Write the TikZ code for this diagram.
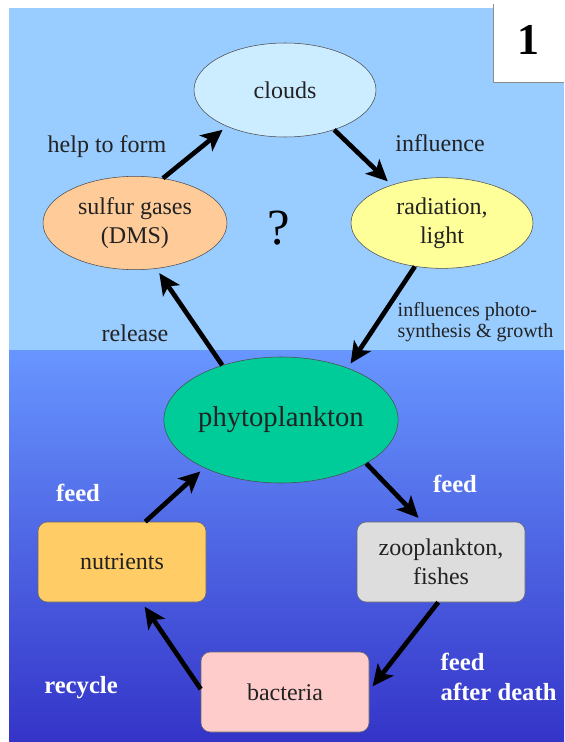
\documentclass[tikz,border=0pt]{standalone}
\usepackage{fontspec}
\setmainfont{Liberation Serif}
\usetikzlibrary{shapes.geometric,arrows.meta}
\definecolor{skyblue}{RGB}{153,204,255}
\definecolor{seatop}{RGB}{104,150,255}
\definecolor{seabottom}{RGB}{52,52,200}
\definecolor{cloudfill}{RGB}{204,236,255}
\definecolor{gasfill}{RGB}{255,204,153}
\definecolor{lightfill}{RGB}{255,255,153}
\definecolor{phytofill}{RGB}{0,204,153}
\definecolor{nutrfill}{RGB}{255,204,102}
\definecolor{zoofill}{RGB}{221,221,221}
\definecolor{bactfill}{RGB}{255,204,204}
\definecolor{inkgray}{RGB}{34,34,34}

\begin{document}
\begin{tikzpicture}[x=0.75pt, y=-0.75pt,
    oval/.style={ellipse, draw=black!70, thin, inner sep=0pt, align=center,
        text=inkgray, font=\fontsize{18}{22}\selectfont},
    card/.style={rectangle, rounded corners=7pt, draw=black!60, thin, align=center,
        minimum width=126pt, minimum height=60pt, text=inkgray,
        font=\fontsize{18}{22}\selectfont},
    flow/.style={-{Stealth[length=16pt, width=15pt, inset=4pt]}, line width=3.5pt, shorten >=4pt},
    darklbl/.style={text=inkgray, font=\fontsize{18}{22}\selectfont},
    whitelbl/.style={text=white, align=left, font=\bfseries\fontsize{18.5}{22.5}\selectfont}]
    \useasboundingbox (0,0) rectangle (564,742);

    % Fondo: aire y mar
    \fill[skyblue] (9,8) rectangle (564,350);
    \shade[top color=seatop, bottom color=seabottom] (9,350) rectangle (564,742);

    % Recuadro del número
    \fill[white] (493,0) rectangle (564,82);
    \draw[black!45] (493,4) -- (493,82) -- (564,82);
    \node[font=\bfseries\fontsize{33}{33}\selectfont] (num) at (528,40) {1};

    % Parte superior (atmósfera)
    \node[oval, fill=cloudfill, minimum width=136.5pt, minimum height=70.5pt] (clouds) at (285,90) {clouds};
    \node[oval, fill=gasfill, minimum width=138pt, minimum height=70pt] (gases) at (135,223) {sulfur gases\\(DMS)};
    \node[oval, fill=lightfill, minimum width=136.5pt, minimum height=68pt] (light) at (442,223) {radiation,\\light};
    \node[font=\fontsize{38}{38}\selectfont] (ask) at (279,228) {?};

    % Parte inferior (océano)
    \node[oval, fill=phytofill, minimum width=170pt, minimum height=94.5pt, font=\fontsize{21.5}{24}\selectfont] (phyto) at (281,420) {phytoplankton};
    \node[card, fill=nutrfill] (nutr) at (122,562) {nutrients};
    \node[card, fill=zoofill] (zoo) at (441,562) {zooplankton,\\fishes};
    \node[card, fill=bactfill] (bact) at (285,692) {bacteria};

    % Flechas
    \draw[flow] (gases.58) -- (clouds.212);
    \draw[flow] (clouds.-39) -- (light.143);
    \draw[flow] (light.238) -- (phyto.38);
    \draw[flow] (phyto.137) -- (gases.-65);
    \draw[flow] (phyto.-27) -- (zoo.115);
    \draw[flow] (nutr.60) -- (phyto.212);
    \draw[flow] (zoo.-94) -- (bact.1);
    \draw[flow] (bact.178) -- (nutr.-64);

    % Etiquetas
    \node[darklbl] (lblform) at (107,147) {help to form};
    \node[darklbl] (lblinfl) at (440,143) {influence};
    \node[darklbl] (lblrel) at (135,333) {release};
    \node[darklbl, anchor=west, align=left, font=\fontsize{15}{16}\selectfont] (lblphoto) at (393,322) {influences photo-\\synthesis \& growth};
    \node[whitelbl] (lblfeedl) at (78,493) {feed};
    \node[whitelbl] (lblfeedr) at (455,484) {feed};
    \node[whitelbl] (lblrec) at (81,688) {recycle};
    \node[whitelbl, anchor=west] (lbldeath) at (436,677) {feed\\after death};
\end{tikzpicture}
\end{document}
